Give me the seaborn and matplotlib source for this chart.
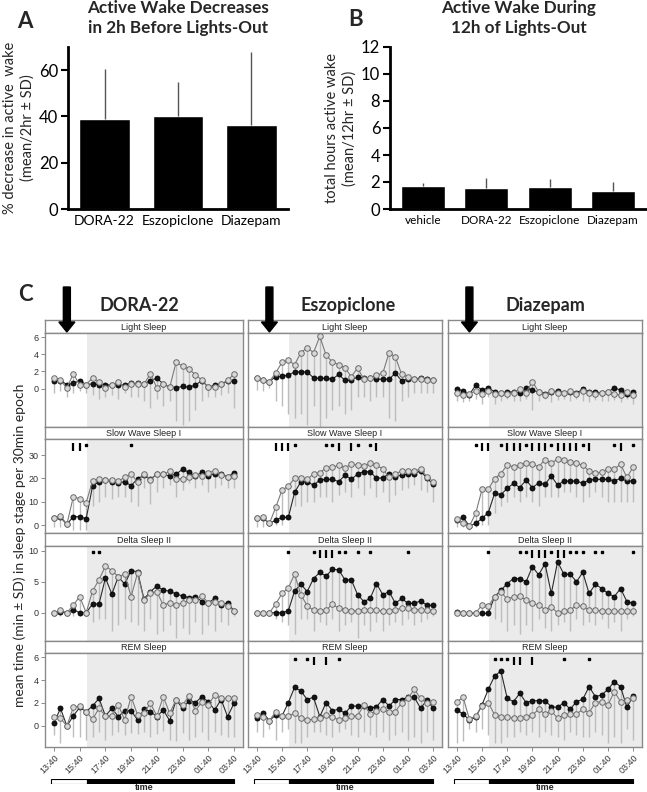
import numpy as np
import pandas as pd
import matplotlib
matplotlib.use("Agg")
import matplotlib.pyplot as plt
from matplotlib.patches import FancyArrow, Rectangle
from matplotlib.transforms import IdentityTransform, blended_transform_factory
import seaborn as sns

W, H = 647, 792

# ---------------- panel A ----------------
A_DRUGS = ["DORA-22", "Eszopiclone", "Diazepam"]
A_MEAN = [39.0, 40.3, 36.5]
A_SD = [21.5, 14.5, 31.5]

# ---------------- panel B ----------------
B_GROUPS = ["vehicle", "DORA-22", "Eszopiclone", "Diazepam"]
B_MEAN = [1.68, 1.56, 1.60, 1.37]
B_SD = [0.27, 0.75, 0.65, 0.62]

# ---------------- panel C ----------------
EPOCHS = list(range(29))  # 30 min epochs, 13:40 ... 03:40
TIME_TICKS = [0, 4, 8, 12, 16, 20, 24, 28]
TIME_LABELS = ["13:40", "15:40", "17:40", "19:40", "21:40", "23:40", "01:40", "03:40"]
LIGHTS_OUT = 5.15
DOSE_EPOCH = 2
DRUGS = ["DORA-22", "Eszopiclone", "Diazepam"]
STAGES = ["Light Sleep", "Slow Wave Sleep I", "Delta Sleep II", "REM Sleep"]

# filled = vehicle, open = drug, low = lower end of SD line
LIGHT_DORA_VEH = [0.94, 0.94, 0.47, 0.6, 0.94, 0.47, 0.55, 0.45, 0.45, 0.4, 0.45, 0.42, 0.6, 0.6, 0.55, 0.94, 1.2, 0.55, 0.15, 0.1, 0.25, 0.15, 0.4, 0.94, 0.15, 0.4, 0.55, 0.85, 0.85]
LIGHT_DORA_DRUG = [1.25, 0.95, 0.08, 1.7, 0.45, 0.45, 1.25, 0.8, 0.1, 0.4, 0.8, 0.15, 0.55, 0.55, 0.55, 1.7, 0.1, 0.55, 0.15, 3.1, 2.6, 2.3, 1.6, 1.0, 0.15, 0.15, 0.55, 0.95, 1.7]
LIGHT_DORA_LOW = [-0.5, -0.3, -1.0, -0.5, -0.3, -0.5, -0.8, -1.2, -1.0, -0.8, -1.2, -0.5, -1.0, -1.0, -1.5, -2.3, -1.2, -2.0, -1.5, -3.8, -4.3, -3.8, -2.5, -1.5, -1.0, -1.0, -0.8, -0.5, -2.3]

LIGHT_ESZO_VEH = [1.2, 1.0, 0.8, 1.4, 1.45, 1.55, 1.95, 1.95, 1.95, 1.25, 1.2, 1.2, 1.1, 1.65, 0.95, 1.0, 1.35, 1.2, 1.2, 1.1, 1.1, 1.1, 1.8, 0.9, 1.1, 1.1, 1.25, 1.1, 1.05]
LIGHT_ESZO_DRUG = [1.2, 1.0, 0.8, 1.85, 3.05, 3.3, 2.8, 4.2, 4.8, 4.2, 6.1, 3.9, 3.1, 2.8, 2.4, 1.4, 2.4, 1.1, 1.2, 1.6, 1.8, 4.2, 3.7, 1.65, 1.4, 1.1, 1.1, 1.0, 1.0]
LIGHT_ESZO_LOW = [-0.2, -0.3, 0.1, -1.5, -2.0, -3.0, -3.5, -3.0, -4.3, -2.0, -4.5, -3.5, -2.5, -2.0, -3.0, -2.5, -1.0, -1.0, -1.5, -1.0, -1.0, -3.5, -3.8, -1.5, -1.0, -0.5, -0.5, -0.5, -0.5]

LIGHT_DIAZ_VEH = [0.0, -0.3, -0.7, 0.4, -0.2, 0.1, -0.4, -0.5, -0.4, -0.4, -0.5, 0.1, -0.2, -0.4, -0.6, -0.4, -0.3, -0.5, -0.4, -0.5, -0.1, -0.4, -0.4, -0.5, -0.4, 0.1, -0.2, -0.6, -0.4]
LIGHT_DIAZ_DRUG = [-0.5, -0.7, -0.6, -0.3, -0.6, -0.3, -0.6, -0.5, -0.6, -0.5, 0.0, -0.5, 0.8, -0.4, -0.7, -0.3, -0.5, -0.5, -0.3, -0.6, -0.3, -0.5, -0.6, -0.5, -0.4, -0.6, -0.8, -0.4, -0.8]
LIGHT_DIAZ_LOW = [-1.5, -1.6, -1.5, -1.2, -1.8, -1.0, -1.8, -1.4, -1.2, -1.5, -1.5, -1.2, -2.5, -1.5, -1.2, -1.6, -1.3, -1.2, -1.5, -1.2, -1.4, -1.6, -1.3, -1.5, -1.4, -1.3, -1.6, -1.2, -1.8]

SWS_DORA_VEH = [2.9, 3.3, 0.3, 3.6, 3.6, 2.7, 16.7, 18.6, 19.3, 18.6, 18.1, 18.6, 16.9, 19.9, 21.3, 19.6, 21.9, 21.9, 21.0, 21.9, 23.9, 22.6, 21.0, 22.6, 21.0, 22.1, 21.9, 20.7, 22.4]
SWS_DORA_DRUG = [2.9, 4.0, 0.3, 12.1, 11.3, 9.6, 18.9, 19.6, 19.3, 19.3, 18.9, 20.4, 22.1, 18.3, 22.1, 19.3, 21.9, 21.9, 23.0, 19.9, 19.9, 20.4, 21.4, 21.0, 22.4, 23.3, 21.4, 20.7, 21.0]
SWS_DORA_LOW = [-1, -1, -1, -2, -2, -2, 8, 10, 12, 11, 12, 12, 10, 8, 16, 9, 14, 16, 17, 12, 15, 18, 16, 17, 14, 16, 17, 16, 16]
SWS_DORA_DOTS = [5, 12]
SWS_DORA_BARS = [3, 4]

SWS_ESZO_VEH = [2.9, 2.9, 0.7, 2.1, 3.3, 3.3, 14.0, 18.6, 18.6, 17.1, 19.3, 19.6, 19.6, 18.6, 21.4, 19.6, 21.9, 22.9, 22.9, 20.0, 20.3, 22.1, 20.7, 21.4, 21.9, 21.9, 23.3, 20.0, 17.6]
SWS_ESZO_DRUG = [2.9, 3.3, 0.7, 7.6, 15.0, 16.7, 20.0, 20.3, 19.6, 21.9, 22.4, 24.6, 24.7, 25.7, 24.6, 26.0, 25.7, 25.3, 26.4, 25.7, 24.0, 20.4, 22.1, 23.1, 23.3, 23.1, 24.0, 20.7, 18.6]
SWS_ESZO_LOW = [-1, -1, 0, 0, 0, 5, 8, 8, 10, 10, 12, 12, 10, 13, 14, 12, 16, 13, 16, 12, 14, 10, 13, 15, 16, 17, 15, 14, 10]
SWS_ESZO_DOTS = [6, 11, 12, 16, 18]
SWS_ESZO_BARS = [3, 4, 5, 13, 15, 19]

SWS_DIAZ_VEH = [2.1, 3.3, -0.4, 0.7, 2.9, 5.3, 13.6, 13.1, 15.7, 17.9, 16.1, 19.3, 16.0, 18.1, 17.4, 21.0, 17.1, 18.9, 18.9, 18.9, 17.9, 19.3, 19.6, 19.6, 19.6, 18.9, 20.0, 18.9, 18.9]
SWS_DIAZ_DRUG = [2.4, 0.7, -0.4, 5.0, 15.3, 15.3, 19.9, 22.1, 25.7, 25.0, 25.6, 26.7, 26.1, 25.0, 28.1, 26.4, 28.4, 27.9, 27.1, 26.4, 25.7, 23.1, 22.4, 22.6, 24.1, 24.0, 26.1, 20.4, 24.9]
SWS_DIAZ_LOW = [-1, -1, -2, -1, 0, 0, 5, 8, 10, 12, 10, 12, 10, 8, 12, 12, 12, 14, 14, 12, 10, 12, 14, 12, 10, 10, 10, 10, 10]
SWS_DIAZ_DOTS = [3, 7, 11, 15, 20, 25, 28]
SWS_DIAZ_BARS = [4, 5, 8, 9, 10, 12, 13, 14, 16, 17, 18, 19, 21, 26]

DELTA_DORA_VEH = [0, 0.15, 0, 0.5, 0, 0, 1.4, 1.4, 5.6, 3.0, 5.8, 4.6, 6.8, 6.6, 2.2, 3.4, 4.3, 3.6, 3.5, 3.0, 2.7, 2.4, 2.6, 1.8, 1.6, 2.3, 1.2, 1.6, 0.3]
DELTA_DORA_DRUG = [0, 0.4, 0, 1.2, 2.6, 0, 3.5, 5.3, 7.5, 6.8, 5.8, 6.2, 2.6, 6.4, 2.0, 3.2, 3.4, 1.2, 1.6, 1.2, 1.6, 2.0, 2.1, 2.7, 1.6, 1.8, 1.5, 1.1, 0.3]
DELTA_DORA_LOW = [-0.3, -0.5, -0.3, -0.5, -0.5, -0.3, -1.5, -1.0, -1.0, -3.0, -2.0, -1.0, -1.5, -2.0, -3.0, -1.0, -3.5, -3.0, -2.0, -4.0, -2.5, -3.5, -1.5, -3.5, -2.0, -3.0, -1.5, -2.0, -0.5]
DELTA_DORA_DOTS = [6, 7]
DELTA_DORA_BARS = []

DELTA_ESZO_VEH = [0, 0, 0, 0, 0, 0.3, 3.5, 4.6, 3.4, 5.5, 6.5, 5.9, 7.0, 6.9, 5.3, 5.3, 2.9, 1.8, 2.3, 4.7, 2.9, 3.4, 1.5, 2.3, 1.5, 1.5, 1.9, 1.2, 1.2]
DELTA_ESZO_DRUG = [0, 0, 0, 1.4, 3.1, 4.0, 6.2, 2.9, 1.1, 0.4, 0.3, 0.4, 1.4, 0.7, 0.5, 0.3, 0.3, 0.5, 0.5, 0.4, 0.3, 0.3, 0.5, 0.7, 0.7, 0.5, 0.5, 0.4, 0.2]
DELTA_ESZO_LOW = [-0.3, -0.3, -0.3, -1.0, -1.5, -2.0, -3.5, -1.0, -1.0, -3.0, -1.5, -2.0, -1.0, -3.0, -2.0, -1.5, -4.0, -2.0, -3.0, -1.5, -3.0, -2.0, -1.5, -2.0, -1.0, -2.0, -1.5, -1.0, -0.5]
DELTA_ESZO_DOTS = [5, 9, 13, 14, 16, 18, 24]
DELTA_ESZO_BARS = [10, 11, 12]

DELTA_DIAZ_VEH = [0.15, 0, -0.1, -0.1, -0.1, -0.1, 2.6, 3.6, 4.7, 5.5, 5.5, 5.0, 7.4, 6.1, 7.9, 3.1, 8.2, 6.2, 6.2, 5.0, 6.5, 3.1, 4.6, 3.9, 3.1, 2.6, 3.9, 1.8, 1.5]
DELTA_DIAZ_DRUG = [0, 0, 0, 0, 1.2, 1.0, 2.6, 3.4, 2.15, 2.6, 2.7, 2.0, 1.5, 1.2, 0.5, 0.9, 0.0, 0.2, 0.4, 1.2, 1.0, 0.4, 0.4, 0.3, 0.3, 0.2, 0.2, 0.2, 0.2]
DELTA_DIAZ_LOW = [-0.3, -0.3, -0.3, -0.3, -0.5, -0.5, -1.0, -1.5, -3.0, -2.0, -3.5, -2.0, -3.0, -1.0, -2.5, -3.0, -2.0, -1.5, -3.0, -1.0, -2.0, -1.5, -2.0, -1.0, -2.5, -1.5, -3.0, -1.0, -0.5]
DELTA_DIAZ_DOTS = [5, 10, 11, 15, 18, 19, 20, 22, 23, 28]
DELTA_DIAZ_BARS = [12, 13, 14, 16, 17]

REM_DORA_VEH = [0.23, 1.54, 0, 0.87, 1.62, 1.25, 1.74, 2.4, 0.87, 1.54, 0.81, 1.33, 1.33, 0.52, 1.45, 1.25, 0.81, 1.39, 0.46, 2.26, 1.54, 2.2, 2.03, 2.55, 2.1, 1.39, 2.3, 0.81, 1.97]
REM_DORA_DRUG = [0.75, 0.67, 0, 1.62, 1.74, 1.25, 0.58, 1.54, 0.87, 0.87, 1.83, 0.52, 2.55, 0.96, 1.16, 1.97, 0.87, 2.55, 1.1, 2.3, 1.83, 2.6, 1.33, 2.1, 1.83, 2.7, 2.4, 2.4, 2.4]
REM_DORA_LOW = [-0.8, -1.5, -0.3, -1.0, -1.0, -1.2, -1.0, -0.5, -1.2, -0.8, -0.5, -0.8, -0.6, -0.7, -0.5, -1.0, -0.7, -0.4, -1.2, -1.3, -0.6, -1.2, -1.0, -0.5, -1.2, -0.5, -0.8, -1.0, -1.0]

REM_ESZO_VEH = [0.67, 1.16, 0.46, 0.96, 0.87, 2.03, 3.36, 3.04, 2.3, 2.5, 0.81, 2.03, 1.33, 1.45, 1.1, 1.74, 1.74, 1.74, 1.54, 1.68, 2.3, 1.74, 2.3, 2.3, 2.5, 2.5, 1.54, 2.26, 1.54]
REM_ESZO_DRUG = [0.96, 0.81, 0.46, 1.25, 0.87, 0.87, 1.1, 0.67, 0.52, 0.58, 0.67, 0.96, 0.81, 0.52, 0.67, 0.87, 0.87, 1.83, 1.04, 1.33, 1.45, 1.25, 1.25, 2.03, 2.4, 3.19, 2.4, 1.97, 2.1]
REM_ESZO_LOW = [-0.5, -1.0, -0.3, -1.2, -0.5, -0.3, -1.5, -1.5, -1.0, -0.5, -0.5, -0.8, -1.0, -0.5, -0.3, -0.8, -1.0, -0.5, -0.8, -1.0, -0.5, -1.2, -0.8, -0.5, -1.2, -1.0, -1.5, -0.5, -1.2]
REM_ESZO_DOTS = [6, 8, 13]
REM_ESZO_BARS = [9, 11]

REM_DIAZ_VEH = [1.39, 1.04, 0.52, 0.75, 1.83, 3.19, 4.35, 4.78, 2.4, 2.12, 2.84, 2.03, 2.2, 2.2, 2.2, 1.68, 1.62, 2.03, 1.45, 2.12, 2.32, 3.42, 2.55, 2.7, 3.19, 3.86, 3.42, 1.62, 2.61]
REM_DIAZ_DRUG = [2.12, 2.49, 0.58, 0.87, 1.74, 2.03, 0.96, 0.75, 0.75, 0.67, 0.67, 0.75, 0.96, 1.45, 1.04, 1.33, 0.67, 0.96, 1.04, 1.04, 1.45, 1.16, 2.03, 2.12, 1.83, 2.99, 2.12, 2.26, 2.4]
REM_DIAZ_LOW = [-1.5, -1.3, -0.3, -0.5, -0.3, -0.8, -1.5, -1.5, -1.0, -1.0, -0.5, -0.8, -0.5, -1.0, -0.5, -0.8, -1.0, -1.2, -0.5, -0.8, -1.0, -1.0, -0.5, -0.8, -1.5, -1.0, -1.5, -0.3, -1.2]
REM_DIAZ_DOTS = [6, 7, 8, 17, 21]
REM_DIAZ_BARS = [9, 10, 12]

# stage -> drug -> (vehicle, drug, sd low end, dots, bars)
PANELS = {
    "Light Sleep": {
        "DORA-22": (LIGHT_DORA_VEH, LIGHT_DORA_DRUG, LIGHT_DORA_LOW, [], []),
        "Eszopiclone": (LIGHT_ESZO_VEH, LIGHT_ESZO_DRUG, LIGHT_ESZO_LOW, [], []),
        "Diazepam": (LIGHT_DIAZ_VEH, LIGHT_DIAZ_DRUG, LIGHT_DIAZ_LOW, [], []),
    },
    "Slow Wave Sleep I": {
        "DORA-22": (SWS_DORA_VEH, SWS_DORA_DRUG, SWS_DORA_LOW, SWS_DORA_DOTS, SWS_DORA_BARS),
        "Eszopiclone": (SWS_ESZO_VEH, SWS_ESZO_DRUG, SWS_ESZO_LOW, SWS_ESZO_DOTS, SWS_ESZO_BARS),
        "Diazepam": (SWS_DIAZ_VEH, SWS_DIAZ_DRUG, SWS_DIAZ_LOW, SWS_DIAZ_DOTS, SWS_DIAZ_BARS),
    },
    "Delta Sleep II": {
        "DORA-22": (DELTA_DORA_VEH, DELTA_DORA_DRUG, DELTA_DORA_LOW, DELTA_DORA_DOTS, DELTA_DORA_BARS),
        "Eszopiclone": (DELTA_ESZO_VEH, DELTA_ESZO_DRUG, DELTA_ESZO_LOW, DELTA_ESZO_DOTS, DELTA_ESZO_BARS),
        "Diazepam": (DELTA_DIAZ_VEH, DELTA_DIAZ_DRUG, DELTA_DIAZ_LOW, DELTA_DIAZ_DOTS, DELTA_DIAZ_BARS),
    },
    "REM Sleep": {
        "DORA-22": (REM_DORA_VEH, REM_DORA_DRUG, REM_DORA_LOW, [], []),
        "Eszopiclone": (REM_ESZO_VEH, REM_ESZO_DRUG, REM_ESZO_LOW, REM_ESZO_DOTS, REM_ESZO_BARS),
        "Diazepam": (REM_DIAZ_VEH, REM_DIAZ_DRUG, REM_DIAZ_LOW, REM_DIAZ_DOTS, REM_DIAZ_BARS),
    },
}

# layout (pixels)
ROW_YLIM = [(-4.5, 6.5), (-3.4, 36.9), (-4.56, 10.75), (-1.83, 6.35)]
ROW_YTICKS = [[0, 2, 4, 6], [0, 10, 20, 30], [0, 5, 10], [0, 2, 4, 6]]
ROWS_PX = [(320, 333, 427), (427, 439, 533), (533, 546, 641), (641, 653, 747)]
COLS_PX = [(45, 243), (248, 442), (448, 642)]
TITLE_X = [139, 348, 545]
XLIM = (-1.4, 29.4)

SMALL = ["Liberation Sans", "DejaVu Sans"]


def px_axes(fig, left, top, right, bottom):
    return fig.add_axes([left / W, 1 - bottom / H, (right - left) / W, (bottom - top) / H])


def ftext(fig, x, y, s, **kw):
    return fig.text(x / W, 1 - y / H, s, **kw)


sns.set_theme(style="white")
plt.rcParams["font.family"] = ["Lato", "DejaVu Sans"]

fig = plt.figure(figsize=(W / 100, H / 100), dpi=100)

# ================= A =================
axA = px_axes(fig, 68, 47, 288, 209)
sns.barplot(x=A_DRUGS, y=A_MEAN, color="black", saturation=1, width=0.69, ax=axA, errorbar=None)
axA.vlines(range(len(A_MEAN)), A_MEAN, np.add(A_MEAN, A_SD), color="#555555", lw=1)
axA.set_ylim(0, 70)
axA.set_xlim(-0.5, 2.5)
axA.set_yticks([0, 20, 40, 60])
sns.despine(ax=axA)
for sp in ["left", "bottom"]:
    axA.spines[sp].set_linewidth(2)
    axA.spines[sp].set_color("black")
axA.tick_params(axis="y", direction="out", length=5, width=1.5, labelsize=12, pad=2, left=True, colors="black")
axA.tick_params(axis="x", length=0, labelsize=10, pad=4, colors="black")
ftext(fig, 25, 22, "A", fontsize=16, fontweight="bold", ha="center", va="center")
ftext(fig, 178, 18, "Active Wake Decreases\nin 2h Before Lights-Out", fontsize=12.3,
      fontweight="bold", ha="center", va="center", linespacing=1.25)
ftext(fig, 19, 128, "% decrease in active  wake\n(mean/2hr ± SD)", fontsize=10.5, rotation=90,
      ha="center", va="center", linespacing=1.25)

# ================= B =================
axB = px_axes(fig, 390, 47, 646, 209)
sns.barplot(x=B_GROUPS, y=B_MEAN, color="black", saturation=1, width=0.70, ax=axB, errorbar=None)
axB.vlines(range(len(B_MEAN)), B_MEAN, np.add(B_MEAN, B_SD), color="#555555", lw=1)
axB.set_ylim(0, 12)
axB.set_xlim(-0.52, 3.52)
axB.set_yticks(range(0, 13, 2))
sns.despine(ax=axB)
for sp in ["left", "bottom"]:
    axB.spines[sp].set_linewidth(2)
    axB.spines[sp].set_color("black")
axB.tick_params(axis="y", direction="out", length=5, width=1.5, labelsize=12, pad=2, left=True, colors="black")
axB.tick_params(axis="x", length=0, labelsize=8.5, pad=4, colors="black")
ftext(fig, 356, 20, "B", fontsize=16, fontweight="bold", ha="center", va="center")
ftext(fig, 519, 18, "Active Wake During\n12h of Lights-Out", fontsize=12.3,
      fontweight="bold", ha="center", va="center", linespacing=1.25)
ftext(fig, 341, 128, "total hours active wake\n(mean/12hr ± SD)", fontsize=10.5, rotation=90,
      ha="center", va="center", linespacing=1.25)

# ================= C =================
ftext(fig, 25, 295, "C", fontsize=16, fontweight="bold", ha="center", va="center")
ftext(fig, 20, 545, "mean time (min ± SD) in sleep stage per 30min epoch", fontsize=10,
      rotation=90, ha="center", va="center")

for c, drug in enumerate(DRUGS):
    left, right = COLS_PX[c]
    ftext(fig, TITLE_X[c], 305, drug, fontsize=13, fontweight="bold", ha="center", va="center")
    for r, stage in enumerate(STAGES):
        s_top, p_top, p_bot = ROWS_PX[r]
        veh, drg, low, dots, bars = PANELS[stage][drug]

        # strip
        st = px_axes(fig, left, s_top, right, p_top)
        st.set_xticks([])
        st.set_yticks([])
        st.set_facecolor("white")
        for sp in st.spines.values():
            sp.set_color("#8a8a8a")
            sp.set_linewidth(1)
        st.text(0.5, 0.45, stage, transform=st.transAxes, ha="center", va="center",
                fontsize=6.5, family=SMALL, color="#222222")

        ax = px_axes(fig, left, p_top, right, p_bot)
        ax.set_facecolor("white")
        ax.axvspan(LIGHTS_OUT, XLIM[1], color="#ebebeb", lw=0, zorder=0)
        top = np.maximum(veh, drg)
        ax.vlines(EPOCHS, low, top, colors="#bdbdbd", lw=1, zorder=1)
        df = pd.DataFrame({"epoch": EPOCHS, "vehicle": veh, "drug": drg})
        sns.lineplot(data=df, x="epoch", y="vehicle", ax=ax, color="#2a2a2a", lw=0.8,
                     marker="o", markersize=3.6, markerfacecolor="#151515",
                     markeredgecolor="#000000", markeredgewidth=0.6, zorder=3)
        sns.lineplot(data=df, x="epoch", y="drug", ax=ax, color="#7a7a7a", lw=0.8,
                     marker="o", markersize=4.0, markerfacecolor="#d8d8d8",
                     markeredgecolor="#6a6a6a", markeredgewidth=0.7, zorder=4)
        tr = blended_transform_factory(ax.transData, ax.transAxes)
        if dots:
            ax.plot(dots, [0.935] * len(dots), ls="none", marker="s", ms=1.6, color="black",
                    transform=tr, clip_on=False)
        if bars:
            ax.plot(bars, [0.92] * len(bars), ls="none", marker="|", ms=5.5, mew=1.6,
                    color="black", transform=tr, clip_on=False)
        ax.set_xlim(*XLIM)
        ax.set_ylim(*ROW_YLIM[r])
        ax.set_xlabel("")
        ax.set_ylabel("")
        for sp in ax.spines.values():
            sp.set_color("#8a8a8a")
            sp.set_linewidth(1)
        ax.set_yticks(ROW_YTICKS[r])
        ax.set_xticks(TIME_TICKS)
        ax.tick_params(axis="both", direction="out", length=3, width=0.6, color="#777777",
                       labelsize=6.5, labelcolor="#333333", pad=1.5)
        if c == 0:
            ax.set_yticklabels([str(v) for v in ROW_YTICKS[r]], family=SMALL)
            ax.tick_params(axis="y", left=True)
        else:
            ax.tick_params(axis="y", left=False, labelleft=False)
        if r == len(STAGES) - 1:
            ax.set_xticklabels(TIME_LABELS, rotation=45, ha="right", va="top",
                               rotation_mode="anchor", family=SMALL)
            ax.tick_params(axis="x", bottom=True)
        else:
            ax.tick_params(axis="x", bottom=False, labelbottom=False)

        if r == 0:
            # dosing arrow
            x_px = left + (DOSE_EPOCH - XLIM[0]) / (XLIM[1] - XLIM[0]) * (right - left)
            arr = FancyArrow(x_px, H - 287, 0, -45, width=7, head_width=16, head_length=10,
                             length_includes_head=True, color="black", transform=IdentityTransform())
            fig.add_artist(arr)

    # light/dark bar + time label
    tb = px_axes(fig, left, 779, right, 784)
    tb.set_xlim(*XLIM)
    tb.set_ylim(0, 1)
    tb.axis("off")
    tb.add_patch(Rectangle((-0.5, 0), LIGHTS_OUT + 0.5, 1, facecolor="white", edgecolor="black", lw=0.8))
    tb.add_patch(Rectangle((LIGHTS_OUT, 0), 28 - LIGHTS_OUT, 1, facecolor="black", edgecolor="black", lw=0.8))
    x_time = left + (14 - XLIM[0]) / (XLIM[1] - XLIM[0]) * (right - left)
    ftext(fig, x_time, 788, "time", fontsize=6.5, family=SMALL, fontweight="bold",
          ha="center", va="center")

fig.savefig("out.png", dpi=100)
